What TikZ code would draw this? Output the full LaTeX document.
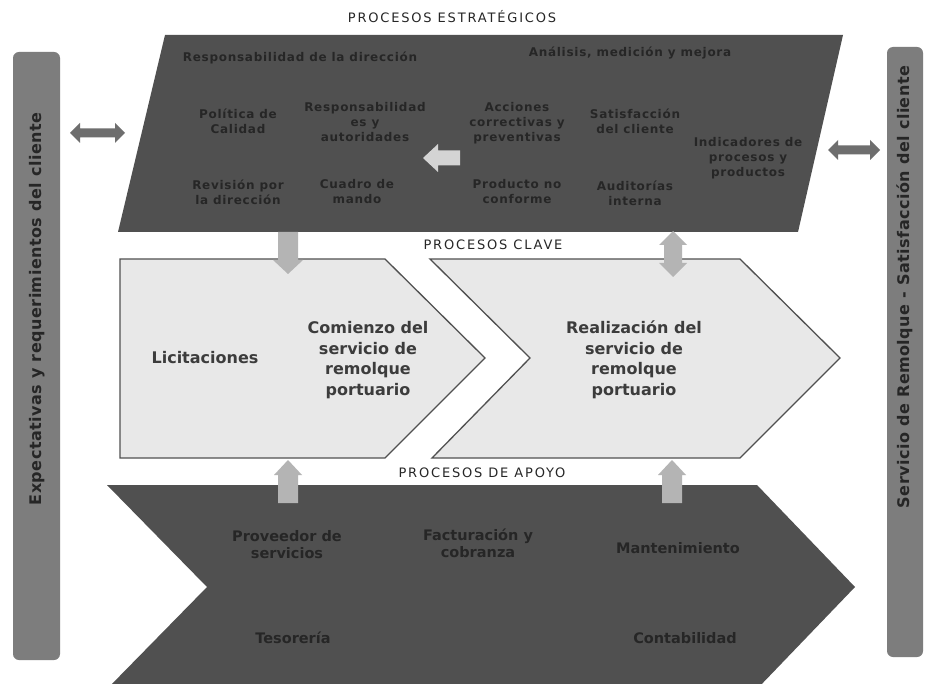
\documentclass[tikz,border=0pt]{standalone}
\usepackage{fontspec}
\setmainfont{DejaVu Sans}
\newfontfamily\labelfont[LetterSpace=14]{DejaVu Sans}
\newfontfamily\topfont[LetterSpace=6]{DejaVu Sans}
\newfontfamily\barfont[LetterSpace=3]{DejaVu Sans}
\definecolor{darkfill}{HTML}{505050}
\definecolor{darktext}{HTML}{262626}
\definecolor{barfill}{HTML}{7D7D7D}
\definecolor{dblarrow}{HTML}{6E6E6E}
\definecolor{lightarrow}{HTML}{B4B4B4}
\definecolor{innerarrow}{HTML}{D4D4D4}
\definecolor{keyfill}{HTML}{E8E8E8}
\definecolor{keyline}{HTML}{505050}
\tikzset{
  toptext/.style={text=darktext, align=center, font=\fontsize{12}{15}\selectfont\topfont\bfseries},
  bottext/.style={text=darktext, align=center, font=\fontsize{14.5}{17}\selectfont\bfseries},
  keytext/.style={text=darktext!90!white, align=center, font=\fontsize{16}{20.5}\selectfont\bfseries},
  seclabel/.style={text=darktext, font=\fontsize{13}{14}\selectfont\labelfont},
  bartext/.style={text=darktext, font=\fontsize{16}{18}\selectfont\barfont\bfseries},
  keybox/.style={fill=keyfill, draw=keyline, line width=1.3pt, line join=miter},
  barbox/.style={fill=barfill, rounded corners=6pt},
}
\begin{document}
\begin{tikzpicture}[x=1pt,y=-1pt]
\useasboundingbox (0,0) rectangle (925,684);
\fill[white] (0,0) rectangle (925,684);

% side bars
\fill[barbox] (13,52) rectangle (60,660);
\node[bartext, rotate=90] (leftbar) at (37,309) {Expectativas y requerimientos del cliente};
\fill[barbox] (887,47) rectangle (923,657);
\node[bartext, rotate=90] (rightbar) at (905,287) {Servicio de Remolque - Satisfacción del cliente};

% strategic parallelogram
\fill[darkfill] (165,35) -- (843,35) -- (798,232) -- (118,232) -- cycle;
\node[seclabel] (lblE) at (452,17) {PROCESOS ESTRATÉGICOS};
\node[toptext] (resp) at (300,58) {Responsabilidad de la dirección};
\node[toptext] (anal) at (630,53) {Análisis, medición y mejora};
\node[toptext] (pol) at (238,121) {Política de\\Calidad};
\node[toptext] (respa) at (365,122) {Responsabilidad\\es y\\autoridades};
\node[toptext] (rev) at (238,192) {Revisión por\\la dirección};
\node[toptext] (cua) at (357,192) {Cuadro de\\mando};
\node[toptext] (acc) at (517,123) {Acciones\\correctivas y\\preventivas};
\node[toptext] (sat) at (635,121) {Satisfacción\\del cliente};
\node[toptext] (ind) at (748,158) {Indicadores de\\procesos y\\productos};
\node[toptext] (prod) at (517,192) {Producto no\\conforme};
\node[toptext] (aud) at (635,193) {Auditorías\\interna};
% inner arrow
\fill[innerarrow] (423,158) -- (438,144) -- (438,150.5) -- (460,150.5) -- (460,165.5) -- (438,165.5) -- (438,172) -- cycle;

% side double arrows
\fill[dblarrow] (70,133) -- (80,123) -- (80,128.5) -- (115,128.5) -- (115,123) -- (125,133) -- (115,143) -- (115,137.5) -- (80,137.5) -- (80,143) -- cycle;
\fill[dblarrow] (828,150) -- (838,140) -- (838,145.5) -- (870,145.5) -- (870,140) -- (880,150) -- (870,160) -- (870,154.5) -- (838,154.5) -- (838,160) -- cycle;

% key processes
\node[seclabel] (lblC) at (493,245) {PROCESOS CLAVE};
\draw[keybox] (120,259) -- (385,259) -- (485,358) -- (385,458) -- (120,458) -- cycle;
\draw[keybox] (430,259) -- (740,259) -- (840,358) -- (740,458) -- (432,458) -- (530,358) -- cycle;
\node[keytext] (lic) at (205,358) {Licitaciones};
\node[keytext] (com) at (368,360) {Comienzo del\\servicio de\\remolque\\portuario};
\node[keytext] (rea) at (634,360) {Realización del\\servicio de\\remolque\\portuario};

% arrows between strategic and key
\fill[lightarrow] (278,232) -- (298,232) -- (298,260) -- (303,260) -- (288,274) -- (273,260) -- (278,260) -- cycle;
\fill[lightarrow] (673,231) -- (687,245) -- (682,245) -- (682,263) -- (687,263) -- (673,277) -- (659,263) -- (664,263) -- (664,245) -- (659,245) -- cycle;

% support processes
\node[seclabel] (lblA) at (482,473) {PROCESOS DE APOYO};
\fill[darkfill] (107,485) -- (757,485) -- (855,587) -- (757,689) -- (107,689) -- (207,587) -- cycle;
\fill[lightarrow] (288,460) -- (302,475) -- (298,475) -- (298,503) -- (278,503) -- (278,475) -- (274,475) -- cycle;
\fill[lightarrow] (672,460) -- (686,475) -- (682,475) -- (682,503) -- (662,503) -- (662,475) -- (658,475) -- cycle;
\node[bottext] (prov) at (287,545) {Proveedor de\\servicios};
\node[bottext] (fact) at (478,543) {Facturación y\\cobranza};
\node[bottext] (mant) at (678,548) {Mantenimiento};
\node[bottext] (tes) at (293,638) {Tesorería};
\node[bottext] (cont) at (685,638) {Contabilidad};
\end{tikzpicture}
\end{document}
